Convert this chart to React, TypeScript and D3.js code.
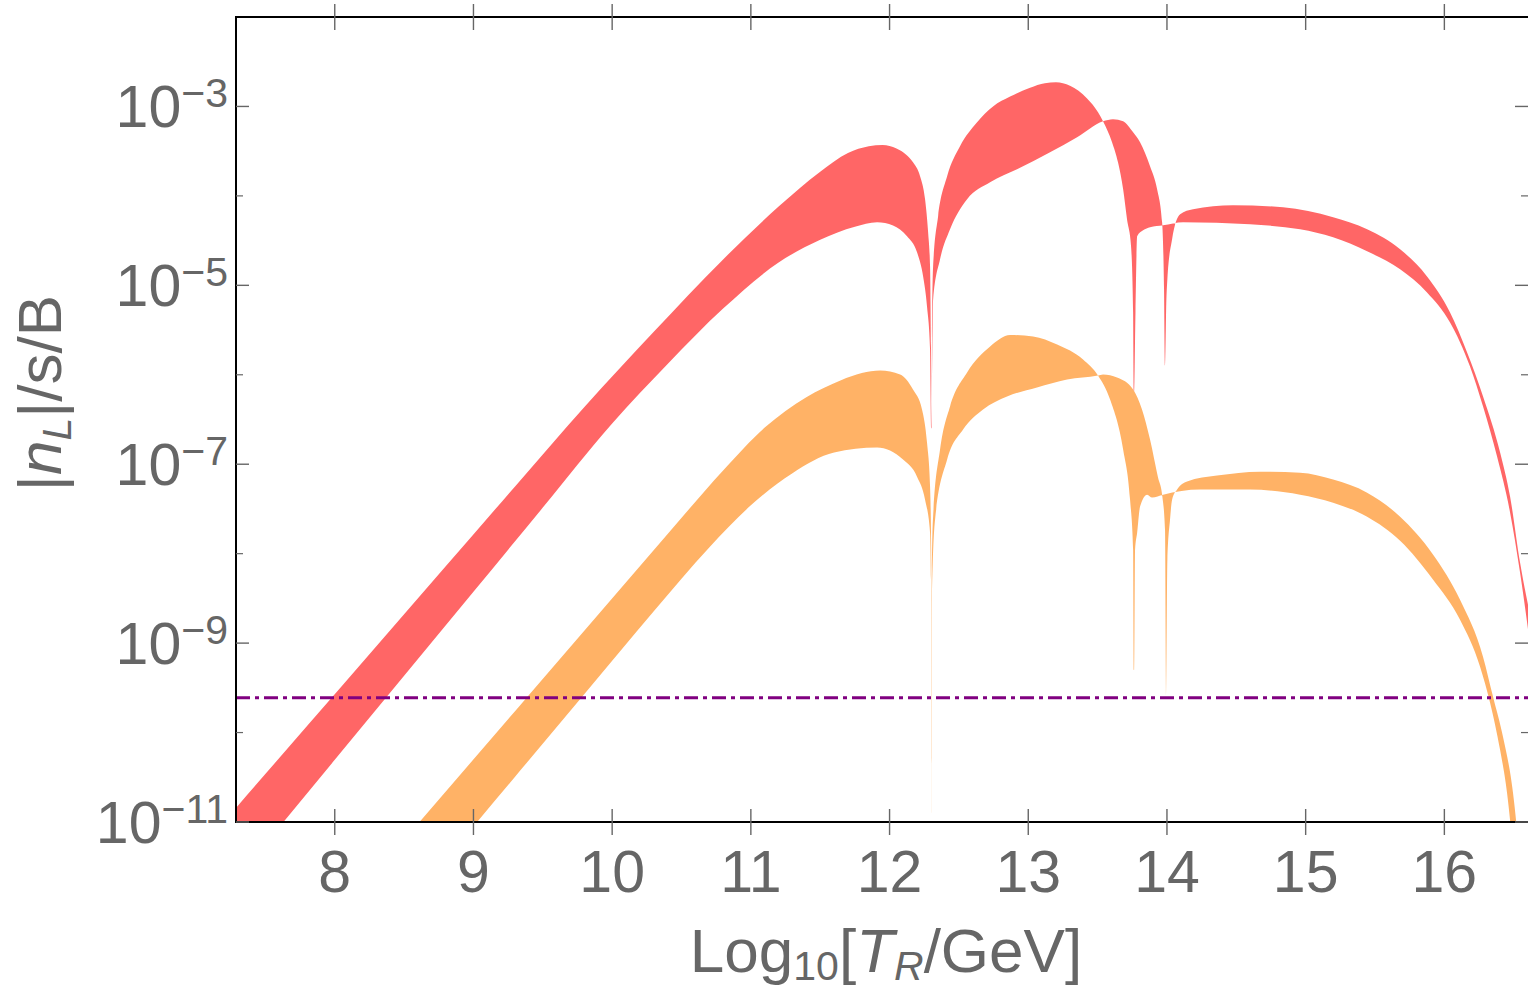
import React from "react";
import * as d3 from "d3";

const W = 1528;
const H = 990;
const PL = 236, PR = 1528, PT = 17, PB = 822;

const xDomain: [number, number] = [7.288, 16.603];
const yDomain: [number, number] = [1e-11, 1e-2];

const xTicks = [8, 9, 10, 11, 12, 13, 14, 15, 16];
const yMajorExp = [-3, -5, -7, -9, -11];
const yMinorExp = [-4, -6, -8, -10];

const etaObs = 2.45e-10;

// [log10(T_R/GeV), log10 |n_L|/s]
const redA: [number, number][] = [
  [7.1, -11.177], [7.3, -10.82], [7.8, -9.927], [8.3, -9.034], [8.8, -8.141],
  [9.3, -7.248], [9.8, -6.36], [10.3, -5.52], [10.8, -4.71], [11.2, -4.12],
  [11.5, -3.73], [11.7, -3.52], [11.85, -3.445], [11.95, -3.43], [12.05, -3.47],
  [12.12, -3.54], [12.169, -3.624], [12.22, -3.78], [12.256, -4.038], [12.278, -4.407],
  [12.292, -4.788], [12.299, -5.717], [12.3025, -6.6], [12.306, -5.6], [12.314, -4.788],
  [12.35, -4.228], [12.415, -3.78], [12.508, -3.444], [12.631, -3.176], [12.746, -3.0],
  [12.869, -2.89], [13.013, -2.79], [13.12, -2.74], [13.2, -2.73], [13.301, -2.77],
  [13.424, -2.91], [13.503, -3.064], [13.539, -3.165], [13.604, -3.4], [13.647, -3.624],
  [13.684, -3.926], [13.712, -4.262], [13.741, -4.564], [13.756, -5.303], [13.763, -6.2],
  [13.773, -5.303], [13.785, -4.452], [13.828, -4.385], [13.878, -4.351], [13.972, -4.329],
  [14.116, -4.295], [14.599, -4.318], [14.96, -4.374], [15.198, -4.463], [15.443, -4.62],
  [15.681, -4.821], [15.875, -5.079], [16.041, -5.415], [16.185, -5.907], [16.279, -6.355],
  [16.38, -6.915], [16.474, -7.542], [16.546, -8.214], [16.618, -9.02],
];

const redB: [number, number][] = [
  [7.5, -11.245], [8.0, -10.305], [8.5, -9.365], [9.0, -8.425], [9.5, -7.485],
  [10.0, -6.545], [10.4, -5.88], [10.8, -5.26], [11.2, -4.745], [11.5, -4.49],
  [11.75, -4.345], [11.91, -4.295], [12.025, -4.33], [12.126, -4.452], [12.198, -4.631],
  [12.242, -4.9], [12.27, -5.236], [12.292, -5.717], [12.3025, -6.6], [12.314, -5.157],
  [12.364, -4.709], [12.436, -4.374], [12.559, -4.038], [12.725, -3.847], [12.919, -3.702],
  [13.157, -3.512], [13.352, -3.344], [13.539, -3.165], [13.611, -3.142], [13.684, -3.165],
  [13.756, -3.288], [13.806, -3.4], [13.878, -3.668], [13.929, -3.926], [13.965, -4.295],
  [13.979, -5.045], [13.986, -5.9], [13.995, -5.2], [14.003, -4.93], [14.037, -4.485],
  [14.095, -4.205], [14.188, -4.149], [14.477, -4.105], [14.837, -4.127], [15.198, -4.239],
  [15.443, -4.374], [15.681, -4.597], [15.875, -4.9], [16.041, -5.303], [16.164, -5.751],
  [16.279, -6.243], [16.402, -6.87], [16.474, -7.363], [16.546, -8.102], [16.618, -8.684],
];

const orangeA: [number, number][] = [
  [8.4, -11.38], [8.9, -10.48], [9.4, -9.58], [9.9, -8.68], [10.4, -7.78],
  [10.8, -7.07], [11.1, -6.59], [11.4, -6.25], [11.65, -6.06], [11.8, -5.98],
  [11.932, -5.952], [12.076, -5.997], [12.169, -6.165], [12.234, -6.389], [12.27, -6.758],
  [12.292, -7.249], [12.3, -7.956], [12.3025, -10.9], [12.305, -8.2], [12.314, -7.586],
  [12.364, -6.836], [12.436, -6.355], [12.559, -5.974], [12.725, -5.683], [12.869, -5.555],
  [13.035, -5.571], [13.208, -5.661], [13.395, -5.829], [13.503, -6.008], [13.59, -6.277],
  [13.684, -6.836], [13.734, -7.396], [13.756, -7.956], [13.763, -9.3], [13.77, -7.956],
  [13.785, -7.765], [13.806, -7.474], [13.857, -7.34], [13.893, -7.373], [13.972, -7.34],
  [14.239, -7.284], [14.599, -7.284], [14.96, -7.34], [15.198, -7.43], [15.443, -7.587],
  [15.681, -7.855], [15.919, -8.292], [16.113, -8.739], [16.258, -9.266], [16.33, -9.669],
  [16.402, -10.195], [16.452, -10.676], [16.488, -11.2],
];

const orangeB: [number, number][] = [
  [8.8, -11.42], [9.026, -11.001], [9.3, -10.494], [9.8, -9.569], [10.3, -8.644],
  [10.7, -7.93], [11.0, -7.46], [11.3, -7.1], [11.6, -6.87], [11.91, -6.814],
  [12.097, -6.948], [12.198, -7.139], [12.256, -7.396], [12.292, -7.765], [12.299, -8.3],
  [12.3025, -10.9], [12.306, -8.5], [12.328, -7.62], [12.415, -6.948], [12.53, -6.612],
  [12.674, -6.389], [12.847, -6.243], [13.063, -6.142], [13.28, -6.053], [13.503, -6.008],
  [13.539, -5.997], [13.64, -6.03], [13.756, -6.165], [13.82, -6.389], [13.878, -6.724],
  [13.936, -7.15], [13.965, -7.34], [13.986, -7.732], [13.994, -9.6], [14.003, -8.07],
  [14.022, -7.62], [14.037, -7.396], [14.073, -7.284], [14.145, -7.194], [14.361, -7.127],
  [14.671, -7.083], [14.96, -7.094], [15.198, -7.172], [15.443, -7.318], [15.681, -7.587],
  [15.919, -8.012], [16.113, -8.516], [16.279, -9.154], [16.351, -9.601], [16.423, -10.049],
  [16.495, -10.676], [16.531, -11.2],
];

const bands = [
  { name: "red", a: redA, b: redB, color: "#FF6666" },
  { name: "orange", a: orangeA, b: orangeB, color: "#FFB266" },
];

const FONT = "'Liberation Sans', Arial, Helvetica, sans-serif";
const GRAY = "#666666";

export default function App() {
  const x = d3.scaleLinear().domain(xDomain).range([PL, PR]);
  const y = d3.scaleLog().domain(yDomain).range([PB, PT]);

  const line = d3
    .line<[number, number]>()
    .x((d) => x(d[0]))
    .y((d) => y(Math.pow(10, d[1])))
    .curve(d3.curveMonotoneX);

  const bandPath = (a: [number, number][], b: [number, number][]) => {
    const pa = line(a) as string;
    const pb = line(b.slice().reverse()) as string;
    return pa + "L" + pb.slice(1) + "Z";
  };

  const tickLen = 13;
  const minorLen = 7;

  return (
    <svg
      width={W}
      height={H}
      style={{ position: "absolute", left: 0, top: 0, background: "#fff" }}
      fontFamily={FONT}
    >
      <defs>
        <clipPath id="plotclip">
          <rect x={PL} y={PT} width={PR - PL} height={PB - PT} />
        </clipPath>
      </defs>

      <g clipPath="url(#plotclip)">
        {bands.map((bd) => (
          <path key={bd.name} d={bandPath(bd.a, bd.b)} fill={bd.color} stroke="none" />
        ))}
        <line
          x1={PL}
          x2={PR}
          y1={y(etaObs)}
          y2={y(etaObs)}
          stroke="#800080"
          strokeWidth={3}
          strokeDasharray="14,5,4,5"
        />
      </g>

      {/* frame */}
      <line x1={PL} x2={PL} y1={PT} y2={PB + 1} stroke="#000" strokeWidth={2} />
      <line x1={PL - 1} x2={PR} y1={PB} y2={PB} stroke="#000" strokeWidth={2} />
      <line x1={PL - 1} x2={PR} y1={PT} y2={PT} stroke="#000" strokeWidth={2} />

      {/* x ticks */}
      {xTicks.map((t) => (
        <g key={"xt" + t}>
          <line x1={x(t)} x2={x(t)} y1={PB - tickLen} y2={PB + tickLen} stroke={GRAY} strokeWidth={1.4} />
          <line x1={x(t)} x2={x(t)} y1={PT - tickLen} y2={PT + tickLen} stroke={GRAY} strokeWidth={1.4} />
          <text x={x(t)} y={892} textAnchor="middle" fontSize={59} fill={GRAY}>
            {t}
          </text>
        </g>
      ))}

      {/* y ticks */}
      {yMajorExp.map((e) => {
        const yy = y(Math.pow(10, e));
        return (
          <g key={"ym" + e}>
            <line x1={PL} x2={PL + tickLen} y1={yy} y2={yy} stroke={GRAY} strokeWidth={1.4} />
            <line x1={PR - tickLen} x2={PR} y1={yy} y2={yy} stroke={GRAY} strokeWidth={1.4} />
            <text x={228} y={yy + 21} textAnchor="end" fontSize={59} fill={GRAY}>
              10
              <tspan dy={-20} fontSize={41}>
                {"\u2212" + Math.abs(e)}
              </tspan>
            </text>
          </g>
        );
      })}
      {yMinorExp.map((e) => {
        const yy = y(Math.pow(10, e));
        return (
          <g key={"yn" + e}>
            <line x1={PL} x2={PL + minorLen} y1={yy} y2={yy} stroke={GRAY} strokeWidth={1.2} />
            <line x1={PR - minorLen} x2={PR} y1={yy} y2={yy} stroke={GRAY} strokeWidth={1.2} />
          </g>
        );
      })}

      {/* x title */}
      <text x={886} y={972} textAnchor="middle" fontSize={62} fill={GRAY}>
        Log
        <tspan dy={8} fontSize={41}>10</tspan>
        <tspan dy={-8}>[</tspan>
        <tspan fontStyle="italic">T</tspan>
        <tspan fontStyle="italic" fontSize={41} dy={8}>R</tspan>
        <tspan dy={-8}>/GeV]</tspan>
      </text>

      {/* y title */}
      <text transform="translate(61,393) rotate(-90)" textAnchor="middle" fontSize={62} fill={GRAY}>
        |<tspan fontStyle="italic">n</tspan>
        <tspan fontStyle="italic" fontSize={41} dy={10}>L</tspan>
        <tspan dy={-10}>|/s/B</tspan>
      </text>
    </svg>
  );
}
